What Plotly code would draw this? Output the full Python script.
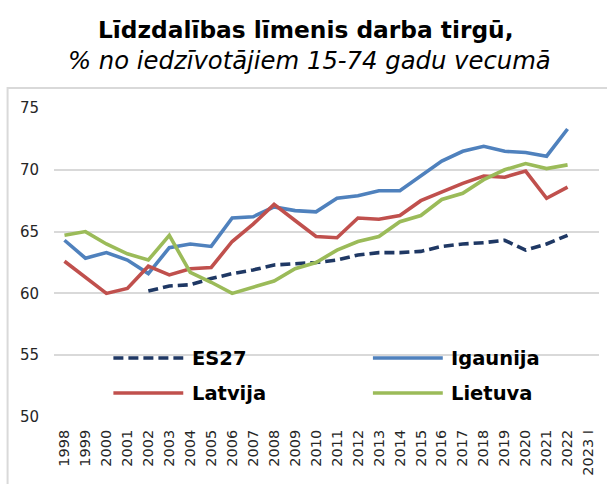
import plotly.graph_objects as go

# ---- data ----
categories = [str(y) for y in range(1998, 2023)] + ["2023 I"]

series_names = ["ES27", "Igaunija", "Latvija", "Lietuva"]

es27 = [None, None, None, None,
        60.2, 60.6, 60.7, 61.2, 61.6, 61.9, 62.3, 62.4, 62.5,
        62.7, 63.1, 63.3, 63.3, 63.4, 63.8, 64.0, 64.1, 64.3, 63.5, 64.0, 64.7,
        None]
igaunija = [64.3, 62.85, 63.3, 62.7, 61.6, 63.7, 64.0, 63.8, 66.1, 66.2, 67.0, 66.7, 66.6,
            67.7, 67.9, 68.3, 68.3, 69.5, 70.7, 71.5, 71.9, 71.5, 71.4, 71.1, 73.3,
            None]
latvija = [62.6, 61.3, 60.0, 60.4, 62.2, 61.5, 62.0, 62.1, 64.2, 65.6, 67.2, 65.9, 64.6,
           64.5, 66.1, 66.0, 66.3, 67.5, 68.2, 68.9, 69.5, 69.4, 69.9, 67.7, 68.6,
           None]
lietuva = [64.7, 65.0, 64.0, 63.2, 62.7, 64.7, 61.7, 60.9, 60.0, 60.5, 61.0, 62.0, 62.5,
           63.5, 64.2, 64.6, 65.8, 66.3, 67.6, 68.1, 69.2, 70.0, 70.5, 70.1, 70.4,
           None]

y_ticks = [50, 55, 60, 65, 70, 75]

title_text = "Līdzdalības līmenis darba tirgū,"
subtitle_text = "% no iedzīvotājiem 15-74 gadu vecumā"

# ---- styling ----
FONT = "DejaVu Sans"
colors = ["#1f3864", "#4f81bd", "#c0504d", "#9bbb59"]
dashes = ["10px,5px", "solid", "solid", "solid"]
LW = 3.6

W, H = 607, 484
ML, MR, MT, MB = 53.5, 7.5, 108, 67
PW = W - ML - MR
PH = H - MT - MB


def px_x(px):
    return (px - ML) / PW


def px_y(py):
    return (H - MB - py) / PH


fig = go.Figure()
all_vals = [es27, igaunija, latvija, lietuva]
for name, vals, col, dsh in zip(series_names, all_vals, colors, dashes):
    fig.add_trace(go.Scatter(
        x=categories, y=vals, name=name, mode="lines",
        line=dict(color=col, width=LW, dash=dsh),
        connectgaps=False, hoverinfo="skip", showlegend=False,
    ))

shapes = []
annotations = []

# outer chart-area frame (light gray)
shapes.append(dict(type="rect", xref="paper", yref="paper",
                   x0=px_x(7), x1=px_x(W + 5), y0=px_y(H + 5), y1=px_y(88),
                   line=dict(color="#d9d9d9", width=2), fillcolor="rgba(0,0,0,0)",
                   layer="below"))

# custom legend (two columns, two rows)
legend_pos = [
    (113, 183, 190, 358),
    (373, 443, 449, 358),
    (113, 183, 190, 393),
    (373, 443, 449, 393),
]
for (lx0, lx1, tx, ly), name, col, dsh in zip(legend_pos, series_names, colors, dashes):
    shapes.append(dict(type="line", xref="paper", yref="paper",
                       x0=px_x(lx0), x1=px_x(lx1), y0=px_y(ly), y1=px_y(ly),
                       line=dict(color=col, width=LW, dash=dsh)))
    annotations.append(dict(text="<b>" + name + "</b>", xref="paper", yref="paper",
                            x=px_x(tx), y=px_y(ly), xanchor="left", yanchor="middle",
                            showarrow=False,
                            font=dict(family=FONT, size=19.5, color="#000000")))

# title and subtitle
annotations.append(dict(text="<b>" + title_text + "</b>", xref="paper", yref="paper",
                        x=px_x(305.5), y=px_y(29.5), xanchor="center", yanchor="middle",
                        showarrow=False,
                        font=dict(family=FONT, size=23.3, color="#000000")))
annotations.append(dict(text="<i>" + subtitle_text + "</i>", xref="paper", yref="paper",
                        x=px_x(309.5), y=px_y(60), xanchor="center", yanchor="middle",
                        showarrow=False,
                        font=dict(family=FONT, size=24.3, color="#000000")))

fig.update_layout(
    width=W, height=H,
    margin=dict(l=ML, r=MR, t=MT, b=MB, pad=0),
    paper_bgcolor="white", plot_bgcolor="white",
    showlegend=False,
    shapes=shapes, annotations=annotations,
    font=dict(family=FONT, size=15, color="#262626"),
    xaxis=dict(type="category", categoryorder="array", categoryarray=categories,
               tickvals=categories, ticktext=categories,
               tickangle=-90, showgrid=False, zeroline=False, showline=False,
               ticks="", ticklabelstandoff=9,
               tickfont=dict(family=FONT, size=14.5, color="#262626"),
               range=[-0.5, len(categories) - 0.5], fixedrange=True),
    yaxis=dict(range=[50, 75], tickvals=y_ticks, showgrid=True,
               gridcolor="#d9d9d9", gridwidth=1.5, zeroline=False, showline=False,
               ticks="", ticklabelstandoff=14,
               tickfont=dict(family=FONT, size=15, color="#262626"), fixedrange=True),
)

fig.write_html("out.html", config={"displayModeBar": False},
               post_script="document.body.style.margin='0';document.body.style.overflow='hidden';")
